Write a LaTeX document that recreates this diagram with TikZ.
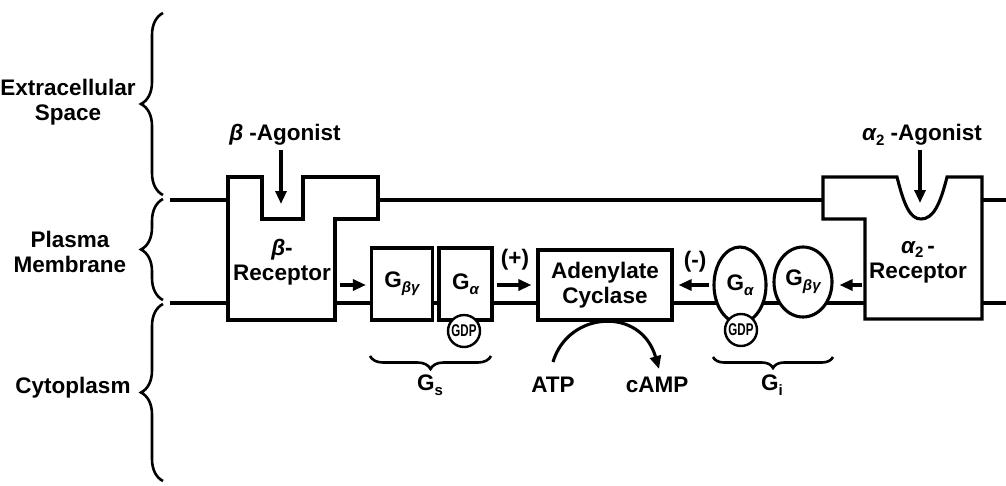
\documentclass[tikz,border=0pt]{standalone}
\usepackage{fontspec}
\usepackage{graphicx}
\setmainfont{Liberation Sans}
\usetikzlibrary{arrows.meta,shapes.geometric,decorations.pathreplacing}
\newcommand{\lsub}[1]{\raisebox{-0.4ex}{\fontsize{15}{15}\selectfont #1}}
\begin{document}
\begin{tikzpicture}[x=1pt,y=-1pt, line width=3.1pt, line join=miter,
 txt/.style={font=\fontsize{22.5}{25}\selectfont\bfseries, align=center, inner sep=0pt},
 box/.style={draw, fill=white, inner sep=0pt, font=\fontsize{22.5}{25}\selectfont\bfseries},
 ell/.style={ellipse, draw, fill=white, inner sep=0pt, font=\fontsize{22.5}{25}\selectfont\bfseries},
 arr/.style={-{Triangle[length=13pt,width=11pt]}, line width=3.1pt},
 curly/.style={decorate, decoration={brace, amplitude=#1}, line width=2.6pt},
 gdp/.style={circle, draw, fill=white, minimum size=32pt, inner sep=0pt, line width=2.4pt, font=\fontsize{17}{17}\selectfont\bfseries}]
\useasboundingbox (0,0) rectangle (1006,485);

% side braces and labels
\draw[curly=22] (163,195) -- (163,13);
\draw[curly=22] (163,300) -- (163,199);
\draw[curly=22] (163,481) -- (163,304);
\node[txt] (ext) at (68,102) {Extracellular\\Space};
\node[txt] (pm) at (70,252) {Plasma\\Membrane};
\node[txt] (cyt) at (73,388) {Cytoplasm};

% membrane lines
\draw (170,200) -- (228,200);
\draw (378,200) -- (823,200);
\draw (982,200) -- (1006,200);
\draw (170,303) -- (1006,303);

% beta receptor
\draw[fill=white] (228,177) -- (262,177) -- (262,219) -- (303,219) -- (303,177)
  -- (378,177) -- (378,219) -- (335,219) -- (335,320) -- (228,320) -- cycle;
\coordinate (bnotch) at (281,204);
\coordinate (brR) at (335,285);
\node[txt] (bag) at (285,135) {{\itshape β} -Agonist};
\node[txt] (brec) at (282,262) {{\itshape β}-\\Receptor};
\draw[arr, shorten <=3pt] (bag.south -| bnotch) -- (bnotch);

% alpha2 receptor
\draw[fill=white] (823,177) -- (897,177) .. controls (904,205) and (910,219) .. (921,219)
  .. controls (933,219) and (940,205) .. (947,177) -- (982,177) -- (982,319)
  -- (865,319) -- (865,219) -- (823,219) -- cycle;
\coordinate (anotch) at (920,203);
\coordinate (arL) at (865,285);
\node[txt] (aag) at (922,135) {{\itshape α}\lsub{2} -Agonist};
\node[txt] (arec) at (918,262) {{\itshape α}\lsub{2}\,-\\Receptor};
\draw[arr, shorten <=3pt] (aag.south -| anotch) -- (anotch);

% Gs
\node[box, minimum width=61pt, minimum height=72pt] (gbg) at (402,284) {G\lsub{\itshape βγ}};
\node[box, minimum width=53pt, minimum height=72pt] (ga) at (465.5,284) {G\lsub{\itshape α}};
\node[gdp] (gdp1) at (464,331) {\scalebox{0.68}[1]{GDP}};

% adenylate cyclase
\node[box, align=center, minimum width=134pt, minimum height=70pt] (ac) at (605,285) {Adenylate\\Cyclase};

% Gi
\node[ell, minimum width=52pt, minimum height=76pt] (gia) at (740,285) {G\lsub{\itshape α}};
\node[ell, minimum width=58pt, minimum height=70pt] (gibg) at (803,282) {G\lsub{\itshape βγ}};
\node[gdp] (gdp2) at (741,330) {\scalebox{0.68}[1]{GDP}};

% arrows in membrane
\draw[arr, shorten <=5pt, shorten >=4pt] (brR) -- (gbg.west |- brR);
\draw[arr, shorten <=3pt, shorten >=5pt] (ga.east |- ac.west) -- (ac.west);
\node[txt] (plus) at (515,260) {(+)};
\draw[arr, shorten <=3pt, shorten >=5pt] (gia.west) -- (ac.east);
\node[txt] (minus) at (695,262) {(-)};
\draw[arr, shorten <=3pt, shorten >=6pt] (arL) -- (gibg.east |- arL);

% lower braces and labels
\draw[curly=13] (491,356) -- (370,356);
\draw[curly=11] (833,357) -- (713,357);
\node[txt] (gs) at (430,385) {G\lsub{s}};
\node[txt] (gi) at (772,385) {G\lsub{i}};

% ATP -> cAMP
\node[txt] (atp) at (553,385) {ATP};
\node[txt] (camp) at (657,385) {cAMP};
\coordinate (atpT) at (553,362);
\coordinate (campT) at (659,369);
\draw[arr] (atpT) .. controls (568,311) and (641,306) .. (campT);
\end{tikzpicture}
\end{document}
